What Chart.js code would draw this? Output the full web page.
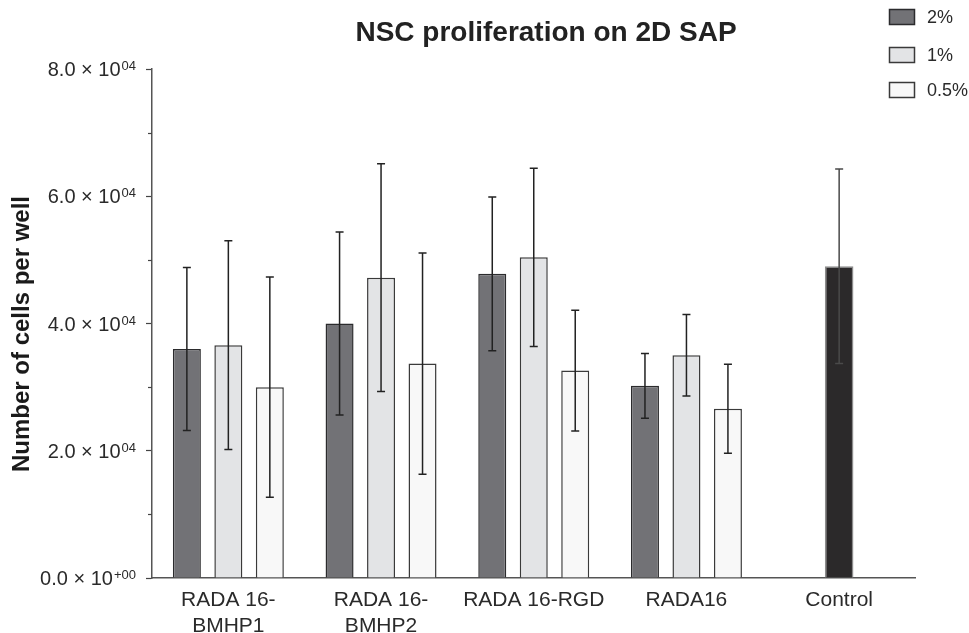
<!DOCTYPE html>
<html>
<head>
<meta charset="utf-8">
<script src="https://cdn.jsdelivr.net/npm/chart.js@4.4.1/dist/chart.umd.min.js"></script>
<style>
  html, body { margin: 0; padding: 0; background: #fff; }
  #wrap { width: 969px; height: 633px; position: relative; }
</style>
</head>
<body>
<div id="wrap"><canvas id="chart"></canvas></div>
<script>
const FONT = "'Liberation Sans', Arial, Helvetica, sans-serif";

const categories = [["RADA 16-", "BMHP1"], ["RADA 16-", "BMHP2"], "RADA 16-RGD", "RADA16", "Control"];
const seriesLabels = ["2%", "1%", "0.5%"];

// mean number of cells per well
const mean2 = [36000, 40000, 47800, 30200, null];
const mean1 = [36600, 47200, 50400, 35000, null];
const mean05 = [30000, 33700, 32600, 26600, null];
const meanControl = [null, null, null, null, 49000];

// error bar half lengths
const err2 = [12800, 14400, 12100, 5100, null];
const err1 = [16400, 17900, 14000, 6400, null];
const err05 = [17300, 17400, 9500, 7000, null];
const errControl = [null, null, null, null, 15300];

// y axis tick labels: mantissa part and exponent part
const yTickValues = [0, 20000, 40000, 60000, 80000];
const yTickBase = ["0.0 × 10", "2.0 × 10", "4.0 × 10", "6.0 × 10", "8.0 × 10"];
const yTickExp = ["+00", "04", "04", "04", "04"];

const titleText = "NSC proliferation on 2D SAP";
const yTitle = "Number of cells per well";

// error bars drawn from each dataset's errors array
const errorBars = {
  id: "errorBars",
  afterDatasetsDraw(chart) {
    const ctx = chart.ctx;
    const y = chart.scales.y;
    chart.data.datasets.forEach((ds, i) => {
      const meta = chart.getDatasetMeta(i);
      meta.data.forEach((bar, j) => {
        const m = ds.data[j], e = ds.errors[j];
        if (m == null || e == null) return;
        const top = y.getPixelForValue(m + e);
        const bot = y.getPixelForValue(m - e);
        ctx.save();
        ctx.strokeStyle = ds.errorColor;
        ctx.lineWidth = 1.5;
        ctx.beginPath();
        ctx.moveTo(bar.x, top);
        ctx.lineTo(bar.x, bot);
        ctx.moveTo(bar.x - 4, top);
        ctx.lineTo(bar.x + 4, top);
        ctx.moveTo(bar.x - 4, bot);
        ctx.lineTo(bar.x + 4, bot);
        ctx.stroke();
        ctx.restore();
      });
    });
  }
};

// minor ticks and the "× 10^n" tick labels of the y axis
const yAxisExtras = {
  id: "yAxisExtras",
  afterDraw(chart) {
    const y = chart.scales.y;
    const ctx = chart.ctx;
    const left = chart.chartArea.left;
    ctx.save();
    ctx.strokeStyle = "#444";
    ctx.lineWidth = 1.2;
    for (let k = 0; k < y.ticks.length - 1; k++) {
      const mid = (y.ticks[k].value + y.ticks[k + 1].value) / 2;
      const py = Math.round(y.getPixelForValue(mid)) + 0.5;
      ctx.beginPath();
      ctx.moveTo(left - 4, py);
      ctx.lineTo(left, py);
      ctx.stroke();
    }
    ctx.fillStyle = "#2a2a2a";
    ctx.textBaseline = "alphabetic";
    ctx.textAlign = "right";
    const right = left - 16;
    y.ticks.forEach(t => {
      const k = yTickValues.indexOf(t.value);
      if (k < 0) return;
      const py = y.getPixelForValue(t.value);
      ctx.font = "13px " + FONT;
      const expW = ctx.measureText(yTickExp[k]).width;
      ctx.fillText(yTickExp[k], right, py + 1);
      ctx.font = "20px " + FONT;
      ctx.fillText(yTickBase[k], right - expW - 1, py + 7);
    });
    ctx.restore();
  }
};

// title, y axis title and legend
const decorations = {
  id: "decorations",
  afterDraw(chart) {
    const ctx = chart.ctx;
    ctx.save();
    ctx.fillStyle = "#222";
    ctx.font = "bold 28px " + FONT;
    ctx.textAlign = "center";
    ctx.textBaseline = "middle";
    ctx.fillText(titleText, 546, 33);

    ctx.save();
    ctx.translate(22, 334);
    ctx.rotate(-Math.PI / 2);
    ctx.fillStyle = "#1a1a1a";
    ctx.font = "bold 24px " + FONT;
    ctx.fillText(yTitle, 0, 0);
    ctx.restore();

    ctx.font = "18px " + FONT;
    ctx.textAlign = "left";
    const rows = [17, 55, 90];
    for (let i = 0; i < 3; i++) {
      const ds = chart.data.datasets[i];
      ctx.fillStyle = ds.backgroundColor;
      ctx.fillRect(889, rows[i] - 8, 26, 16);
      ctx.strokeStyle = ds.borderColor;
      ctx.lineWidth = 1.5;
      ctx.strokeRect(889.5, rows[i] - 7.5, 25, 15);
      ctx.fillStyle = "#2a2a2a";
      ctx.fillText(ds.label, 927, rows[i] + 1);
    }
    ctx.restore();
  }
};

const barCommon = {
  categoryPercentage: 0.815,
  barPercentage: 0.675,
  maxBarThickness: 28.6,
  skipNull: true,
  borderWidth: 1.5,
  borderSkipped: "bottom"
};

new Chart(document.getElementById("chart"), {
  type: "bar",
  data: {
    labels: categories,
    datasets: [
      Object.assign({ label: seriesLabels[0], data: mean2, errors: err2,
        backgroundColor: "#727276", borderColor: "#2b2b2d", errorColor: "#222" }, barCommon),
      Object.assign({ label: seriesLabels[1], data: mean1, errors: err1,
        backgroundColor: "#e3e4e6", borderColor: "#3a3a3a", errorColor: "#222" }, barCommon),
      Object.assign({ label: seriesLabels[2], data: mean05, errors: err05,
        backgroundColor: "#f8f8f8", borderColor: "#3a3a3a", errorColor: "#222" }, barCommon),
      Object.assign({ label: "Control", data: meanControl, errors: errControl,
        backgroundColor: "#2b292a", borderColor: "#8c8c8c", errorColor: "#4a4a4a" }, barCommon)
    ]
  },
  options: {
    responsive: true,
    maintainAspectRatio: false,
    animation: false,
    layout: { padding: { top: 69, right: 53.5, bottom: 0, left: 0 } },
    plugins: {
      legend: { display: false },
      title: { display: false },
      tooltip: { enabled: false }
    },
    scales: {
      x: {
        grid: { display: true, drawOnChartArea: false, drawTicks: false },
        border: { color: "#555", width: 1.5 },
        ticks: {
          color: "#2a2a2a",
          font: { family: FONT, size: 21 },
          padding: 10,
          maxRotation: 0,
          autoSkip: false
        },
        afterFit(scale) { scale.height = 55; }
      },
      y: {
        min: 0,
        max: 80000,
        grid: { drawOnChartArea: false, drawTicks: true, tickLength: 6, tickColor: "#444", tickWidth: 1.2 },
        border: { color: "#555", width: 1.5 },
        ticks: { stepSize: 20000, display: false },
        afterFit(scale) { scale.width = 152; }
      }
    }
  },
  plugins: [errorBars, yAxisExtras, decorations]
});
</script>
</body>
</html>
